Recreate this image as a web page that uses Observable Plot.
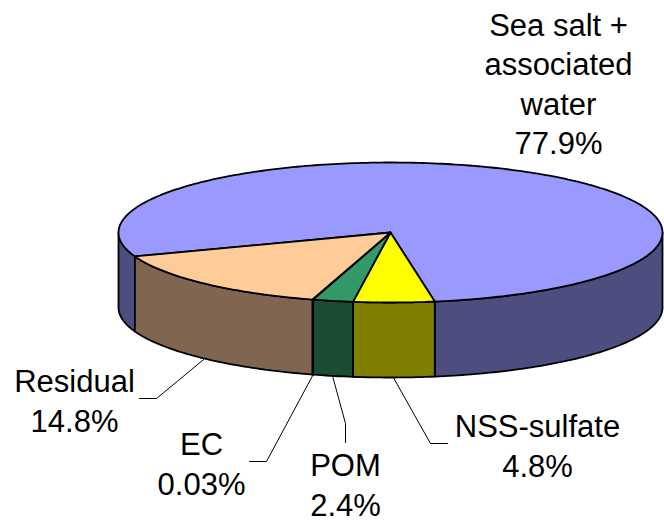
<!DOCTYPE html>
<html><head><meta charset="utf-8">
<script src="https://cdn.jsdelivr.net/npm/d3@7"></script>
<script src="https://cdn.jsdelivr.net/npm/@observablehq/plot@0.6"></script>
<style>html,body{margin:0;padding:0;background:#fff;}</style>
</head><body><div id="chart"></div>
<script>
// ---- data ----
const categories = ["Sea salt + associated water", "NSS-sulfate", "POM", "EC", "Residual"];
const labelTexts = ["Sea salt +\nassociated\nwater\n77.9%", "NSS-sulfate\n4.8%", "POM\n2.4%", "EC\n0.03%", "Residual\n14.8%"];
const values = [77.9, 4.8, 2.4, 0.03, 14.8];

// ---- styles ----
const topColors  = ["#9999FF", "#FFFF00", "#339966", "#1A1A1A", "#FFCC99"];
const sideColors = ["#4D4D80", "#808000", "#1A4D33", "#0D0D0D", "#806650"];

// ---- layout ----
const W = 664, H = 522;
const pieGeom = {cx: 390, cy: 232, rx: 272, ry: 70, depth: 75, startDeg: -110};
const labelLayout = [
  {x: 558, y: 82,  path: null},
  {x: 537, y: 444, path: [[430, 443], [447, 443]]},
  {x: 345, y: 483, path: [[345, 423], [345, 442]]},
  {x: 201, y: 462, path: [[266, 461], [249, 461]]},
  {x: 74,  y: 399, path: [[156, 398], [139, 398]]}
];

const rad = Math.PI / 180;
const pt = (a, dz = 0) => [pieGeom.cx + pieGeom.rx * Math.sin(a), pieGeom.cy - pieGeom.ry * Math.cos(a) + dz];
function arcPts(a0, a1, dz) {
  const n = Math.max(2, Math.ceil(Math.abs(a1 - a0) / rad));
  return d3.range(n + 1).map(i => pt(a0 + (a1 - a0) * i / n, dz));
}

const s0 = pieGeom.startDeg * rad;
const arcs = d3.pie().sort(null).startAngle(s0).endAngle(s0 + 2 * Math.PI)(values);

// top faces
const tops = arcs.map((d, i) => {
  const c = [pieGeom.cx, pieGeom.cy];
  return {i, pts: [c, ...arcPts(d.startAngle, d.endAngle, 0), c]};
});

// visible outer walls (front half: 90deg..270deg)
const walls = [];
arcs.forEach((d, i) => {
  for (let k = -1; k <= 1; k++) {
    const v0 = Math.PI / 2 + 2 * Math.PI * k, v1 = 3 * Math.PI / 2 + 2 * Math.PI * k;
    const a0 = Math.max(d.startAngle, v0), a1 = Math.min(d.endAngle, v1);
    if (a1 > a0) {
      const topArc = arcPts(a0, a1, 0);
      const botArc = arcPts(a1, a0, pieGeom.depth);
      walls.push({i, pts: [...topArc, ...botArc, topArc[0]]});
    }
  }
});

// leaders
const leaders = [];
arcs.forEach((d, i) => {
  const L = labelLayout[i];
  if (!L.path) return;
  const mid = (d.startAngle + d.endAngle) / 2;
  const p0 = pt(mid, pieGeom.depth + 1);
  [p0, ...L.path].forEach(p => leaders.push({key: i, x: p[0], y: p[1]}));
});

const labels = labelTexts.map((t, i) => ({text: t, x: labelLayout[i].x, y: labelLayout[i].y}));

const polyMark = (poly, fill) => Plot.line(poly.pts, {
  x: p => p[0], y: p => p[1], fill, stroke: "#000", strokeWidth: 1.8,
  strokeLinejoin: "round", curve: "linear"
});

const chart = Plot.plot({
  width: W, height: H,
  marginTop: 0, marginRight: 0, marginBottom: 0, marginLeft: 0,
  x: {domain: [0, W], range: [0, W], axis: null},
  y: {domain: [0, H], range: [0, H], axis: null},
  style: {background: "#fff"},
  marks: [
    ...walls.map(w => polyMark(w, sideColors[w.i])),
    ...tops.map(t => polyMark(t, topColors[t.i])),
    Plot.line(leaders, {x: "x", y: "y", z: "key", stroke: "#000", strokeWidth: 1, strokeLinejoin: "miter"}),
    Plot.text(labels, {
      x: "x", y: "y", text: "text", fontSize: 31, lineHeight: 1.27,
      textAnchor: "middle", lineAnchor: "middle", fill: "#000",
      fontFamily: "'Liberation Sans', Arial, sans-serif"
    })
  ]
});
document.getElementById("chart").appendChild(chart);
</script>
</body></html>
